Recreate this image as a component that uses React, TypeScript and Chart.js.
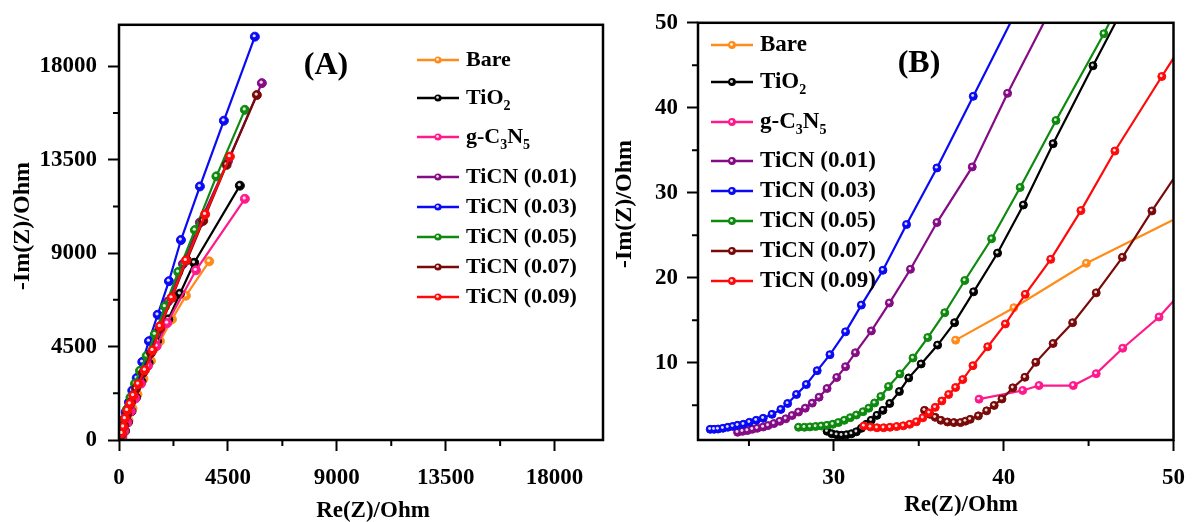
import React, { useEffect, useRef } from 'react';
import { Chart, registerables } from 'chart.js';

Chart.register(...registerables);

const FONT = '"Liberation Serif", "Times New Roman", Times, serif';

const SERIES_NAMES = ['Bare', 'TiO₂', 'g-C₃N₅', 'TiCN (0.01)', 'TiCN (0.03)', 'TiCN (0.05)', 'TiCN (0.07)', 'TiCN (0.09)'];
const SERIES_COLORS = ['#FF8C1A', '#000000', '#FF1A8C', '#850C85', '#0A0AF5', '#0E8A0E', '#7A0A0A', '#FF0A0A'];

// ---------- Panel A (full Nyquist) ----------
const A_X_TICKS = [0, 4500, 9000, 13500, 18000];
const A_Y_TICKS = [0, 4500, 9000, 13500, 18000];
const A_X_MINOR = [2250, 6750, 11250, 15750];
const A_Y_MINOR = [2250, 6750, 11250, 15750];

const A_BARE_X = [144, 248, 392, 557, 764, 1011, 1321, 1692, 2188, 2766, 3728];
const A_BARE_Y = [143, 476, 952, 1524, 2190, 2952, 3810, 4762, 5810, 6952, 8605];
const A_TIO2_X = [124, 248, 372, 516, 702, 929, 1218, 1569, 2035, 2518, 3108, 4995];
const A_TIO2_Y = [95, 429, 857, 1381, 2048, 2810, 3714, 4762, 5810, 7048, 8538, 12253];
const A_GCN_X = [124, 227, 351, 495, 681, 908, 1197, 1556, 1994, 3179, 5201];
const A_GCN_Y = [95, 429, 857, 1381, 2000, 2714, 3571, 4524, 5633, 8176, 11619];
const A_T01_X = [62, 165, 289, 433, 619, 867, 1156, 1527, 2023, 2642, 3344, 4500, 5903];
const A_T01_Y = [190, 619, 1143, 1667, 2333, 3095, 3952, 5143, 6667, 8476, 10476, 13429, 17190];
const A_T03_X = [12, 83, 178, 277, 413, 549, 731, 962, 1238, 1598, 2064, 2559, 3344, 4334, 5614];
const A_T03_Y = [157, 476, 952, 1348, 1824, 2381, 2986, 3762, 4762, 6033, 7652, 9633, 12214, 15381, 19429];
const A_T05_X = [21, 103, 206, 330, 475, 660, 867, 1143, 1486, 1899, 2448, 3137, 4025, 5201];
const A_T05_Y = [143, 476, 952, 1476, 2048, 2714, 3333, 4048, 5095, 6429, 8095, 10110, 12700, 15905];
const A_T07_X = [103, 206, 330, 495, 702, 991, 1321, 1692, 2188, 2807, 3480, 4446, 5697];
const A_T07_Y = [286, 714, 1238, 1810, 2476, 3238, 4190, 5381, 6857, 8667, 10557, 13253, 16619];
const A_T09_X = [111, 178, 248, 343, 454, 590, 797, 1073, 1391, 1692, 2175, 2766, 3562, 4582];
const A_T09_Y = [319, 633, 1033, 1429, 1748, 2143, 2700, 3367, 4319, 5476, 6857, 8652, 10871, 13652];

// ---------- Panel B (high-frequency zoom) ----------
const B_X_TICKS = [30, 40, 50];
const B_Y_TICKS = [10, 20, 30, 40, 50];
const B_X_MINOR = [25, 35, 45];
const B_Y_MINOR = [5, 15, 25, 35, 45];

const B_BARE_X = [37.17, 40.6, 44.87, 52.5];
const B_BARE_Y = [12.65, 16.47, 21.7, 29.3];
const B_TIO2_X = [29.6, 29.88, 30.17, 30.46, 30.75, 31.04, 31.33, 31.62, 31.91, 32.2, 32.54, 32.89, 33.29, 33.86, 34.41, 35.14, 36.11, 37.11, 38.23, 39.64, 41.16, 42.91, 45.26, 47.0];
const B_TIO2_Y = [1.93, 1.64, 1.52, 1.46, 1.52, 1.64, 1.87, 2.28, 2.75, 3.22, 3.8, 4.39, 5.2, 6.61, 8.21, 9.85, 12.07, 14.71, 18.34, 22.9, 28.56, 35.77, 44.94, 51.6];
const B_GCN_X = [38.55, 41.12, 42.08, 44.1, 45.45, 47.01, 49.15, 51.0];
const B_GCN_Y = [5.71, 6.73, 7.31, 7.31, 8.71, 11.7, 15.38, 19.5];
const B_T01_X = [24.33, 24.62, 24.91, 25.2, 25.49, 25.84, 26.13, 26.47, 26.82, 27.17, 27.54, 27.92, 28.32, 28.73, 29.13, 29.6, 30.17, 30.69, 31.27, 32.21, 33.27, 34.51, 36.07, 38.15, 40.23, 42.9];
const B_T01_Y = [1.81, 1.92, 2.01, 2.16, 2.28, 2.43, 2.6, 2.83, 3.1, 3.39, 3.78, 4.19, 4.65, 5.24, 5.94, 6.96, 8.25, 9.53, 11.17, 13.74, 17.02, 20.99, 26.49, 33.04, 41.7, 52.1];
const B_T03_X = [22.72, 22.95, 23.18, 23.47, 23.76, 24.05, 24.34, 24.68, 25.03, 25.43, 25.84, 26.36, 26.88, 27.28, 27.8, 28.38, 29.02, 29.77, 30.69, 31.62, 32.89, 34.28, 36.07, 38.21, 41.0];
const B_T03_Y = [2.16, 2.16, 2.19, 2.28, 2.4, 2.5, 2.63, 2.75, 2.98, 3.22, 3.45, 3.92, 4.5, 5.2, 6.26, 7.43, 9.06, 10.94, 13.63, 16.78, 20.88, 26.26, 32.92, 41.35, 52.4];
const B_T05_X = [27.92, 28.27, 28.6, 28.93, 29.26, 29.6, 29.94, 30.27, 30.62, 30.97, 31.33, 31.72, 32.06, 32.4, 32.77, 33.22, 33.89, 34.66, 35.53, 36.53, 37.71, 39.29, 40.97, 43.08, 45.9, 46.6];
const B_T05_Y = [2.4, 2.4, 2.44, 2.49, 2.55, 2.63, 2.75, 2.95, 3.22, 3.53, 3.84, 4.23, 4.65, 5.26, 6.02, 7.19, 8.68, 10.55, 12.96, 15.88, 19.67, 24.58, 30.62, 38.5, 48.71, 51.5];
const B_T07_X = [35.34, 35.66, 35.97, 36.3, 36.69, 37.07, 37.46, 37.75, 38.03, 38.51, 39.0, 39.44, 39.9, 40.54, 41.25, 41.89, 42.91, 44.06, 45.45, 46.99, 48.73, 51.0];
const B_T07_Y = [4.39, 3.92, 3.57, 3.22, 3.02, 2.95, 2.95, 3.12, 3.33, 3.74, 4.33, 4.97, 5.73, 7.04, 8.28, 10.04, 12.26, 14.71, 18.22, 22.4, 27.86, 34.6];
const B_T09_X = [31.77, 32.16, 32.54, 32.93, 33.31, 33.7, 34.09, 34.47, 34.86, 35.24, 35.62, 35.97, 36.36, 36.76, 37.17, 37.59, 38.19, 39.06, 40.1, 41.27, 42.77, 44.55, 46.55, 49.31, 51.2];
const B_T09_Y = [2.55, 2.43, 2.34, 2.34, 2.4, 2.48, 2.57, 2.75, 3.04, 3.51, 4.09, 4.74, 5.5, 6.26, 7.08, 8.01, 9.65, 11.87, 14.56, 18.04, 22.16, 27.9, 34.91, 43.68, 49.6];

const A_XS = [A_BARE_X, A_TIO2_X, A_GCN_X, A_T01_X, A_T03_X, A_T05_X, A_T07_X, A_T09_X];
const A_YS = [A_BARE_Y, A_TIO2_Y, A_GCN_Y, A_T01_Y, A_T03_Y, A_T05_Y, A_T07_Y, A_T09_Y];
const B_XS = [B_BARE_X, B_TIO2_X, B_GCN_X, B_T01_X, B_T03_X, B_T05_X, B_T07_X, B_T09_X];
const B_YS = [B_BARE_Y, B_TIO2_Y, B_GCN_Y, B_T01_Y, B_T03_Y, B_T05_Y, B_T07_Y, B_T09_Y];

const SUBS = '₀₁₂₃₄₅₆₇₈₉';

function drawRich(ctx: CanvasRenderingContext2D, text: string, x: number, y: number, size: number) {
  const runs: { t: string; sub: boolean }[] = [];
  for (const ch of text) {
    const sub = SUBS.indexOf(ch) >= 0;
    const c = sub ? String(SUBS.indexOf(ch)) : ch;
    const last = runs[runs.length - 1];
    if (last && last.sub === sub) last.t += c;
    else runs.push({ t: c, sub });
  }
  let cx = x;
  for (const r of runs) {
    const fs = r.sub ? Math.round(size * 0.62) : size;
    ctx.font = `bold ${fs}px ${FONT}`;
    ctx.fillText(r.t, cx, r.sub ? y + size * 0.36 : y);
    cx += ctx.measureText(r.t).width;
  }
}

const decorPlugin: any = {
  id: 'decor',
  afterDatasetDraw(chart: any, args: any) {
    const { ctx, chartArea: a } = chart;
    ctx.save();
    ctx.beginPath();
    ctx.rect(a.left, a.top, a.right - a.left, a.bottom - a.top);
    ctx.clip();
    ctx.fillStyle = 'rgba(255,255,255,0.85)';
    for (const el of args.meta.data) {
      const r = el.options.radius;
      ctx.beginPath();
      ctx.arc(el.x - r * 0.15, el.y - r * 0.2, r * 0.36, 0, Math.PI * 2);
      ctx.fill();
    }
    ctx.restore();
  },
  afterDraw(chart: any, _args: any, o: any) {
    const { ctx, chartArea: a, scales } = chart;
    ctx.save();
    // frame
    ctx.strokeStyle = '#000';
    ctx.lineWidth = 2.5;
    ctx.strokeRect(a.left, a.top, a.right - a.left, a.bottom - a.top);
    // minor ticks
    ctx.lineWidth = 2;
    ctx.beginPath();
    for (const v of o.minorX) {
      const x = scales.x.getPixelForValue(v);
      ctx.moveTo(x, a.bottom);
      ctx.lineTo(x, a.bottom + o.minorLen);
    }
    for (const v of o.minorY) {
      const y = scales.y.getPixelForValue(v);
      ctx.moveTo(a.left, y);
      ctx.lineTo(a.left - o.minorLen, y);
    }
    ctx.stroke();

    // legend
    ctx.textBaseline = 'middle';
    ctx.textAlign = 'left';
    chart.data.datasets.forEach((ds: any, i: number) => {
      const y = o.legendRows[i];
      ctx.strokeStyle = ds.borderColor;
      ctx.lineWidth = 2.5;
      ctx.beginPath();
      ctx.moveTo(o.legendX0, y);
      ctx.lineTo(o.legendX1, y);
      ctx.stroke();
      const cx = (o.legendX0 + o.legendX1) / 2;
      ctx.fillStyle = ds.borderColor;
      ctx.beginPath();
      ctx.arc(cx, y, o.legendR, 0, Math.PI * 2);
      ctx.fill();
      ctx.fillStyle = 'rgba(255,255,255,0.85)';
      ctx.beginPath();
      ctx.arc(cx - 0.5, y - 0.6, o.legendR * 0.38, 0, Math.PI * 2);
      ctx.fill();
      ctx.fillStyle = '#000';
      drawRich(ctx, ds.label, o.legendTextX, y, o.legendSize);
    });

    // panel label
    ctx.fillStyle = '#000';
    ctx.textAlign = 'center';
    ctx.font = `bold ${o.panelSize}px ${FONT}`;
    ctx.fillText(o.panelText, o.panelX, o.panelY);

    // axis titles
    ctx.font = `bold ${o.xTitleSize}px ${FONT}`;
    ctx.fillText(o.xTitle, o.xTitleX, o.xTitleY);
    ctx.save();
    ctx.translate(o.yTitleX, o.yTitleY);
    ctx.rotate(-Math.PI / 2);
    ctx.font = `bold ${o.yTitleSize}px ${FONT}`;
    ctx.fillText(o.yTitle, 0, 0);
    ctx.restore();
    ctx.restore();
  },
};

function buildConfig(p: any) {
  const datasets = SERIES_NAMES.map((name, i) => ({
    label: name,
    data: p.xs[i].map((x: number, k: number) => ({ x, y: p.ys[i][k] })),
    borderColor: SERIES_COLORS[i],
    backgroundColor: SERIES_COLORS[i],
    pointBackgroundColor: SERIES_COLORS[i],
    pointBorderColor: SERIES_COLORS[i],
    pointRadius: p.radius,
    pointBorderWidth: 1,
    borderWidth: 2.2,
    tension: 0,
    order: SERIES_NAMES.length - 1 - i,
  }));
  const tickFont = { family: FONT, weight: 'bold' as const, size: 23 };
  const grid = { drawOnChartArea: false, drawTicks: true, tickLength: 11, tickWidth: 2, tickColor: '#000', color: '#000' };
  return {
    type: 'line',
    data: { datasets },
    options: {
      animation: false,
      responsive: false,
      devicePixelRatio: 1,
      events: [],
      layout: { padding: p.padding },
      plugins: { legend: { display: false }, tooltip: { enabled: false }, decor: p.decor },
      scales: {
        x: {
          type: 'linear',
          position: 'bottom',
          min: p.xMin,
          max: p.xMax,
          afterBuildTicks: (s: any) => { s.ticks = p.xTicks.map((v: number) => ({ value: v })); },
          afterFit: (s: any) => { s.height = p.xAxisH; },
          grid,
          border: { display: false },
          ticks: { font: tickFont, color: '#000', padding: p.xPad, maxRotation: 0, autoSkip: false, callback: (v: any) => String(v) },
        },
        y: {
          type: 'linear',
          position: 'left',
          min: p.yMin,
          max: p.yMax,
          afterBuildTicks: (s: any) => { s.ticks = p.yTicks.map((v: number) => ({ value: v })); },
          afterFit: (s: any) => { s.width = p.yAxisW; },
          grid,
          border: { display: false },
          ticks: { font: tickFont, color: '#000', padding: p.yPad, autoSkip: false, callback: (v: any) => String(v) },
        },
      },
    },
    plugins: [decorPlugin],
  };
}

const PANEL_A = {
  xs: A_XS, ys: A_YS, radius: 4.5,
  xMin: 0, xMax: 20000, yMin: 0, yMax: 20000,
  xTicks: A_X_TICKS, yTicks: A_Y_TICKS,
  padding: { left: 0, top: 19, right: 7, bottom: 0 },
  xAxisH: 82, yAxisW: 119, xPad: 13, yPad: 11,
  decor: {
    minorX: A_X_MINOR, minorY: A_Y_MINOR, minorLen: 6,
    legendRows: [60, 98, 137, 177, 207, 237, 267, 297],
    legendX0: 417, legendX1: 459, legendTextX: 466, legendR: 3.6, legendSize: 22,
    panelText: '(A)', panelX: 326, panelY: 66, panelSize: 32,
    xTitle: 'Re(Z)/Ohm', xTitleX: 373, xTitleY: 511, xTitleSize: 23,
    yTitle: '-Im(Z)/Ohm', yTitleX: 23, yTitleY: 226, yTitleSize: 24,
  },
};

const PANEL_B = {
  xs: B_XS, ys: B_YS, radius: 4,
  xMin: 22, xMax: 50, yMin: 0.9, yMax: 50,
  xTicks: B_X_TICKS, yTicks: B_Y_TICKS,
  padding: { left: 0, top: 21, right: 15, bottom: 0 },
  xAxisH: 82, yAxisW: 88, xPad: 13, yPad: 9,
  decor: {
    minorX: B_X_MINOR, minorY: B_Y_MINOR, minorLen: 6,
    legendRows: [45, 82, 122, 161, 191, 221, 251, 281],
    legendX0: 101, legendX1: 143, legendTextX: 150, legendR: 3.9, legendSize: 23,
    panelText: '(B)', panelX: 309, panelY: 64, panelSize: 32,
    xTitle: 'Re(Z)/Ohm', xTitleX: 351, xTitleY: 505, xTitleSize: 23,
    yTitle: '-Im(Z)/Ohm', yTitleX: 15, yTitleY: 204, yTitleSize: 24,
  },
};

function Panel({ cfg, left, width }: { cfg: any; left: number; width: number }) {
  const ref = useRef<HTMLCanvasElement | null>(null);
  useEffect(() => {
    if (!ref.current) return;
    const chart = new Chart(ref.current, buildConfig(cfg) as any);
    return () => chart.destroy();
  }, [cfg]);
  return (
    <canvas
      ref={ref}
      width={width}
      height={522}
      style={{ position: 'absolute', left, top: 0, width, height: 522 }}
    />
  );
}

export default function App() {
  return (
    <div style={{ position: 'absolute', left: 0, top: 0, width: 1198, height: 522, background: '#fff', overflow: 'hidden' }}>
      <Panel cfg={PANEL_A} left={0} width={610} />
      <Panel cfg={PANEL_B} left={610} width={588} />
    </div>
  );
}
